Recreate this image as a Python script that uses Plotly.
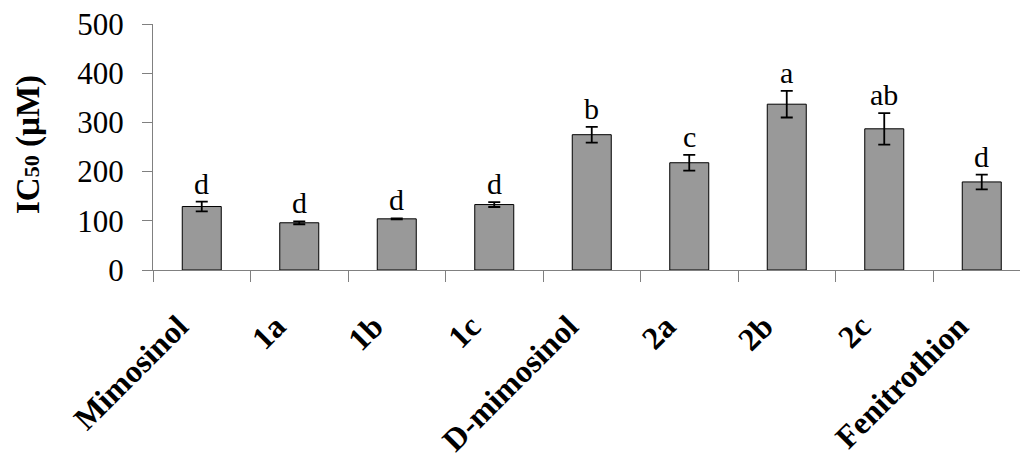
import plotly.graph_objects as go

# IC50 values (µM) with standard errors and significance letters
compounds = ["Mimosinol", "1a", "1b", "1c", "D-mimosinol", "2a", "2b", "2c", "Fenitrothion"]
ic50 = [129, 96, 104, 133, 275, 218, 337, 287, 179]
err = [10, 3, 1, 5, 16, 16, 27, 32, 15]
letters = ["d", "d", "d", "d", "b", "c", "a", "ab", "d"]
y_ticks = [0, 100, 200, 300, 400, 500]

serif = "Liberation Serif, Times New Roman, serif"
line_col = "#808080"

fig = go.Figure()
fig.add_trace(go.Bar(
    x=compounds,
    y=ic50,
    width=0.4,
    marker=dict(color="#999999", line=dict(color="#000000", width=1)),
    error_y=dict(type="data", array=err, visible=True,
                 color="#000000", thickness=1.8, width=6),
))

# significance letters above each error bar
for name, v, e, lab in zip(compounds, ic50, err, letters):
    fig.add_annotation(x=name, y=v + e, xref="x", yref="y", text=lab,
                       showarrow=False, yanchor="bottom", yshift=0,
                       font=dict(family=serif, size=30, color="#000000"))

# y-axis title with subscript
L, W = 153, 1020
fig.add_annotation(
    xref="paper", yref="paper",
    x=(28 - L) / (W - L), y=(454 - 184 - 145) / (454 - 24 - 184),
    text="<b>IC<span style='font-size:22px'>50</span> (µM)</b>",
    textangle=-90, showarrow=False, xanchor="center", yanchor="middle",
    font=dict(family=serif, size=33, color="#000000"),
)

cat_w = 97.5
fig.update_layout(
    width=W, height=454,
    margin=dict(l=L, r=0, t=24, b=184, pad=0, autoexpand=False),
    plot_bgcolor="white", paper_bgcolor="white",
    showlegend=False,
    font=dict(family=serif, color="#000000"),
    xaxis=dict(
        type="category",
        automargin=False,
        range=[-0.5, -0.5 + (W - L) / cat_w],
        showline=True, linecolor=line_col, linewidth=1,
        ticks="outside", tickson="boundaries", ticklen=11, tickcolor=line_col,
        tickangle=-45,
        ticklabelstandoff=24, ticklabelshift=-23,
        tickfont=dict(family=serif, size=32, color="#000000", weight="bold"),
        showgrid=False, zeroline=False,
    ),
    yaxis=dict(
        automargin=False,
        range=[0, 500],
        tickvals=y_ticks,
        showline=True, linecolor=line_col, linewidth=1,
        ticks="outside", ticklen=10, tickcolor=line_col,
        ticklabelstandoff=12,
        tickfont=dict(family=serif, size=31, color="#000000"),
        showgrid=False, zeroline=False,
    ),
)

fig.write_html("out.html")
